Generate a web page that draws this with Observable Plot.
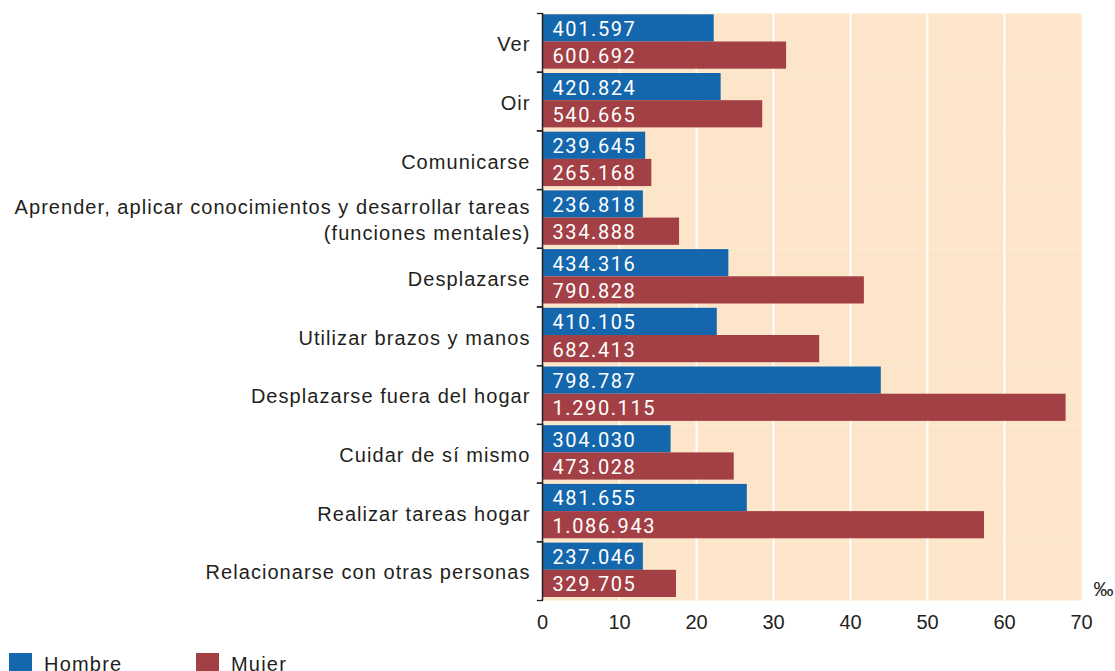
<!DOCTYPE html>
<html>
<head>
<meta charset="utf-8">
<script src="https://cdn.jsdelivr.net/npm/d3@7"></script>
<script src="https://cdn.jsdelivr.net/npm/@observablehq/plot@0.6"></script>
<style>
  html, body { margin: 0; padding: 0; background: #fff; }
  body { font-family: "Liberation Sans", Arial, sans-serif; width: 1115px; height: 671px; overflow: hidden; }
  #chart svg { display: block; }
  #legend { position: relative; height: 26px; margin-top: 8px; }
  .item { position: absolute; top: 0; display: flex; align-items: flex-start; font-size: 20px; color: #231f20; letter-spacing: 1.2px; }
  .sw { width: 23px; height: 23px; margin-right: 12px; }
  .lbl { line-height: 23px; padding-top: 0px; }
</style>
</head>
<body>
<div id="chart"></div>
<div id="legend"></div>
<script>
const categories = [
  "Ver",
  "Oir",
  "Comunicarse",
  "Aprender, aplicar conocimientos y desarrollar tareas (funciones mentales)",
  "Desplazarse",
  "Utilizar brazos y manos",
  "Desplazarse fuera del hogar",
  "Cuidar de sí mismo",
  "Realizar tareas hogar",
  "Relacionarse con otras personas"
];
const categoryLabels = [
  "Ver",
  "Oir",
  "Comunicarse",
  "Aprender, aplicar conocimientos y desarrollar tareas\n(funciones mentales)",
  "Desplazarse",
  "Utilizar brazos y manos",
  "Desplazarse fuera del hogar",
  "Cuidar de sí mismo",
  "Realizar tareas hogar",
  "Relacionarse con otras personas"
];
const sexes = ["Hombre", "Mujer"];
const hombreRate = [22.3, 23.2, 13.4, 13.1, 24.2, 22.7, 44.0, 16.7, 26.6, 13.1];
const mujerRate  = [31.7, 28.6, 14.2, 17.8, 41.8, 36.0, 68.0, 24.9, 57.4, 17.4];
const hombreCount = ["401.597", "420.824", "239.645", "236.818", "434.316", "410.105", "798.787", "304.030", "481.655", "237.046"];
const mujerCount  = ["600.692", "540.665", "265.168", "334.888", "790.828", "682.413", "1.290.115", "473.028", "1.086.943", "329.705"];
const xTicks = [0, 10, 20, 30, 40, 50, 60, 70];
const gridTicks = [10, 20, 30, 40, 50, 60];
const unitLabel = ["‰"];

const colors = ["#1467ac", "#a34046"];
const peach = "#fde5c9";
const ink = "#231f20";

const data = categories.flatMap((c, i) => [
  {cat: c, sex: "Hombre", rate: hombreRate[i], count: hombreCount[i]},
  {cat: c, sex: "Mujer", rate: mujerRate[i], count: mujerCount[i]}
]);
const labelOf = new Map(categories.map((c, i) => [c, categoryLabels[i]]));

const W = 1115, H = 645, mt = 13, mb = 45, ml = 542, mr = 34;
const plotW = W - ml - mr;

const chart = Plot.plot({
  width: W,
  height: H,
  marginTop: mt,
  marginBottom: mb,
  marginLeft: ml,
  marginRight: mr,
  style: {fontFamily: "'Liberation Sans', Arial, sans-serif", fontSize: "20px", color: ink, background: "transparent", overflow: "visible"},
  x: {domain: [0, 70], ticks: xTicks},
  y: {domain: sexes, padding: 0, round: false, insetTop: 1.3, insetBottom: 3, axis: null},
  fy: {domain: categories, padding: 0, round: false, axis: null},
  color: {domain: sexes, range: colors},
  marks: [
    Plot.frame({fill: peach, stroke: "none"}),
    Plot.ruleX(gridTicks, {stroke: "#ffffff", strokeWidth: 2}),
    Plot.barX(data, {fy: "cat", y: "sex", x: "rate", fill: "sex"}),
    Plot.text(data, {fy: "cat", y: "sex", x: 0, text: "count", fill: "#ffffff", textAnchor: "start", dx: 10, dy: 1, fontSize: 20, fontFamily: "Roboto, 'Liberation Sans', sans-serif"}),
    Plot.ruleX([0], {stroke: ink, strokeWidth: 1.5}),
    Plot.frame({anchor: "top", insetLeft: -5, insetRight: plotW, stroke: ink, strokeWidth: 1.3}),
    Plot.frame({anchor: "bottom", insetLeft: -5, insetRight: plotW, stroke: ink, strokeWidth: 1.3}),
    Plot.axisFy({anchor: "left", tickSize: 0, tickPadding: 12, fontSize: 20, lineHeight: 1.3, tickFormat: d => labelOf.get(d), label: null, fill: ink}),
    Plot.axisX({ticks: xTicks, tickSize: 0, tickPadding: 14, fontSize: 20, label: null, fill: ink}),
    Plot.text(unitLabel, {fy: () => categories[categories.length - 1], y: () => "Mujer", x: () => 70, text: d => d, textAnchor: "start", dx: 12, dy: 6, fontSize: 20, fill: ink})
  ]
});
document.getElementById("chart").appendChild(chart);

// letter spacing tweaks for value labels and category labels
d3.select(chart).selectAll("text").each(function() {
  const t = d3.select(this);
  const g = d3.select(this.parentNode);
  if (g.attr("fill") === "#ffffff" || t.attr("fill") === "#ffffff") {
    t.style("letter-spacing", "1.6px");
  }
});
d3.select(chart).selectAll('g[aria-label="fy-axis tick label"] text').style("letter-spacing", "1.05px");

const legend = document.getElementById("legend");
const lefts = [9, 196];
sexes.forEach((s, i) => {
  const item = document.createElement("div");
  item.className = "item";
  item.style.left = lefts[i] + "px";
  const sw = document.createElement("div");
  sw.className = "sw";
  sw.style.background = colors[i];
  const lbl = document.createElement("div");
  lbl.className = "lbl";
  lbl.textContent = s;
  item.appendChild(sw);
  item.appendChild(lbl);
  legend.appendChild(item);
});
</script>
</body>
</html>
